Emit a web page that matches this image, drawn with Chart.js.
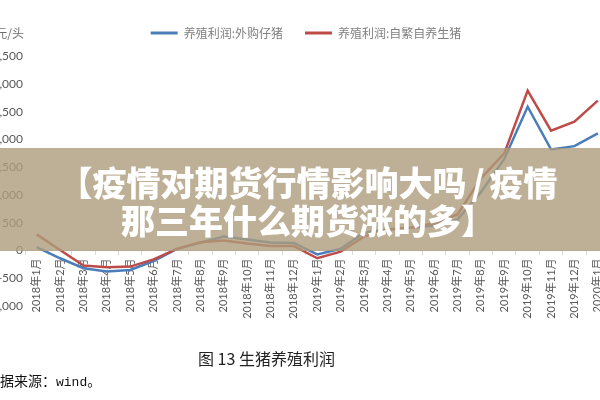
<!DOCTYPE html>
<html>
<head>
<meta charset="utf-8">
<script src="https://cdn.jsdelivr.net/npm/chart.js@4"></script>
<style>
  html, body { margin: 0; padding: 0; background: #fff; }
  body { width: 600px; height: 400px; position: relative; overflow: hidden; font-family: "Noto Sans CJK SC", sans-serif; }
  #chart { position: absolute; left: -15px; top: 0; }
  .unit { position: absolute; right: 576px; top: 26px; font: 12px/14px "Noto Sans CJK SC"; color: #6f6f6f; white-space: nowrap; }
  .band { position: absolute; left: 0; top: 148px; width: 600px; height: 103px; background: rgba(172, 156, 124, 0.8); }
  .band-text { position: absolute; left: 8px; width: 600px; top: 163px; text-align: center; color: #fff; font: 900 34px/38px "Noto Sans CJK SC"; white-space: nowrap; }
  .band-text .slash { margin: 0 5px; }
  .caption { position: absolute; left: 198px; top: 348px; font: 16px/20px "Noto Sans CJK SC"; color: #222; white-space: nowrap; }
  .source { position: absolute; left: -14px; top: 371px; font: 14px/18px "Noto Sans CJK SC"; color: #111; white-space: nowrap; }
  .source span { font-family: "Liberation Mono"; font-size: 13px; }
</style>
</head>
<body>
<canvas id="chart" width="630" height="400"></canvas>
<div class="unit">元/头</div>
<div class="band"></div>
<div class="band-text">【疫情对期货行情影响大吗<span class="slash">/</span>疫情<br>那三年什么期货涨的多】</div>
<div class="caption">图 13 生猪养殖利润</div>
<div class="source">数据来源：<span>wind</span>。</div>
<script>
// 月份 (最後一個月在圖外被裁掉)
const months = [
  '2018年1月', '2018年2月', '2018年3月', '2018年4月', '2018年5月', '2018年6月',
  '2018年7月', '2018年8月', '2018年9月', '2018年10月', '2018年11月', '2018年12月',
  '2019年1月', '2019年2月', '2019年3月', '2019年4月', '2019年5月', '2019年6月',
  '2019年7月', '2019年8月', '2019年9月', '2019年10月', '2019年11月', '2019年12月',
  '2020年1月'
];

// 養殖利潤 元/頭
const boughtPiglets = [60, -140, -320, -380, -350, -190, 30, 140, 250, 200, 145, 135,
  -70, 30, 320, 380, 410, 450, 560, 1050, 1650, 2590, 1820, 1880, 2110];
const selfBred = [290, 10, -270, -300, -290, -160, 30, 150, 180, 125, 80, 80,
  -140, -20, 250, 380, 410, 490, 650, 1300, 1750, 2880, 2160, 2320, 2700];

const seriesNames = ['养殖利润:外购仔猪', '养殖利润:自繁自养生猪'];
const yMin = -1000, yMax = 3500, yStep = 500;

const ctx = document.getElementById('chart').getContext('2d');
new Chart(ctx, {
  type: 'line',
  data: {
    labels: months,
    datasets: [
      { label: seriesNames[0], data: boughtPiglets, borderColor: '#4a7ebb', backgroundColor: '#4a7ebb', order: 1 },
      { label: seriesNames[1], data: selfBred, borderColor: '#be4b48', backgroundColor: '#be4b48', order: 0 }
    ]
  },
  options: {
    responsive: false,
    animation: false,
    devicePixelRatio: 1,
    layout: { padding: { left: 12, right: 0, top: 5, bottom: 94 } },
    elements: {
      line: { borderWidth: 2.5, tension: 0 },
      point: { radius: 0 }
    },
    plugins: {
      tooltip: { enabled: false },
      legend: {
        position: 'top',
        labels: {
          boxWidth: 27,
          boxHeight: 3,
          padding: 22,
          color: '#7f7f7f',
          font: { family: 'Noto Sans CJK SC', size: 12 },
          sort: (a, b) => a.datasetIndex - b.datasetIndex,
          generateLabels: (chart) => Chart.defaults.plugins.legend.labels.generateLabels(chart)
            .map(item => ({ ...item, lineWidth: 0 }))
        }
      },
      // 留出圖例與繪圖區之間的空隙
      title: { display: true, text: '', weight: 500, padding: { top: 0, bottom: 6 }, font: { size: 1 } }
    },
    scales: {
      x: {
        position: { y: 0 },
        offset: true,
        grid: { display: true, drawOnChartArea: false, offset: true, tickLength: 4, color: '#d9d9d9' },
        border: { display: true, color: '#d9d9d9' },
        ticks: {
          autoSkip: false, minRotation: 90, maxRotation: 90, padding: 4,
          color: '#595959', font: { family: 'Lato, "Noto Sans CJK SC"', size: 11 }
        }
      },
      y: {
        min: yMin,
        max: yMax,
        afterFit: (scale) => { scale.width = 28; },
        grid: { display: false, drawTicks: false },
        border: { display: false },
        ticks: {
          stepSize: yStep, padding: 2,
          color: '#595959', font: { family: 'Lato', size: 12 }
        }
      }
    }
  }
});
</script>
</body>
</html>
